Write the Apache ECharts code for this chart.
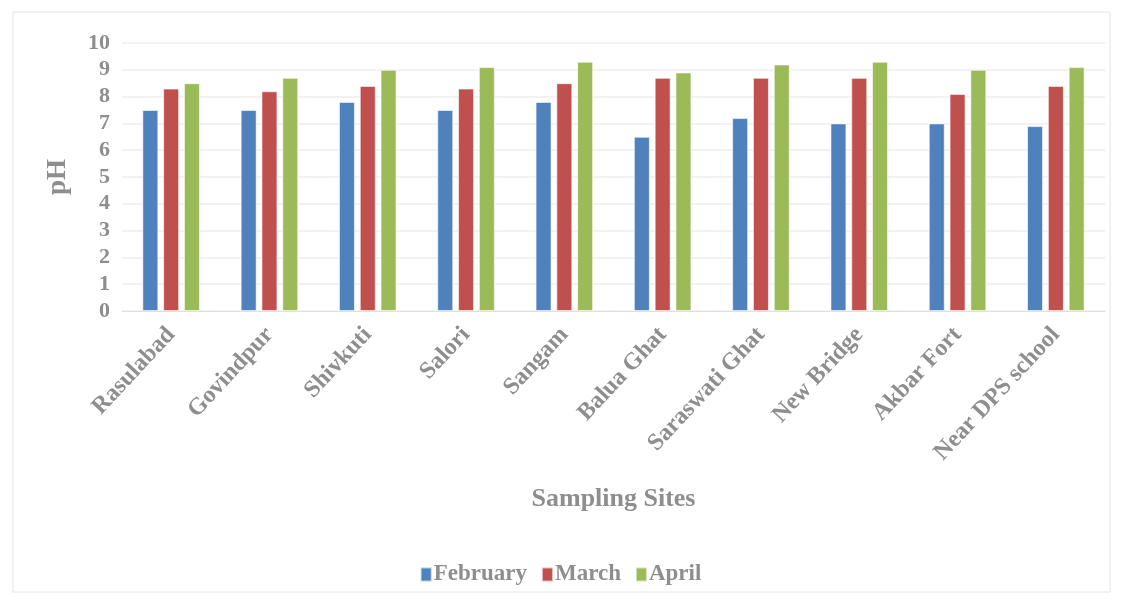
<!DOCTYPE html>
<html><head><meta charset="utf-8">
<script src="https://cdn.jsdelivr.net/npm/echarts@6/dist/echarts.min.js"></script>
<style>html,body{margin:0;padding:0;background:#fff}#c{width:1121px;height:603px}</style>
</head><body><div id="c"></div>
<script>
const categories = ["Rasulabad","Govindpur","Shivkuti","Salori","Sangam","Balua Ghat","Saraswati Ghat","New Bridge","Akbar Fort","Near DPS school"];
const february = [7.5,7.5,7.8,7.5,7.8,6.5,7.2,7.0,7.0,6.9];
const march = [8.3,8.2,8.4,8.3,8.5,8.7,8.7,8.7,8.1,8.4];
const april = [8.5,8.7,9.0,9.1,9.3,8.9,9.2,9.3,9.0,9.1];
const seriesNames = ["February","March","April"];
const colors = ["#4f81bd","#c0504d","#9bbb59"];
const gray = "#8e8e8e";
const font = "'Liberation Serif','Times New Roman',serif";
const chart = echarts.init(document.getElementById('c'));
const mk = (name, data, i) => ({
  name, type: 'bar', data, barWidth: 16, barGap: '30%',
  itemStyle: {color: colors[i], borderColor: 'rgba(255,255,255,0.6)', borderWidth: 1},
  emphasis: {disabled: true}
});
chart.setOption({
  animation: false,
  color: colors,
  graphic: [{type:'rect', shape:{x:13,y:12,width:1097,height:580}, style:{fill:'none', stroke:'#e6e6e6', lineWidth:1}, silent:true}],
  grid: {left: 122, right: 16, top: 43, bottom: 292},
  legend: {
    bottom: 12, left: 'center', itemWidth: 11, itemHeight: 14, itemGap: 14,
    icon: 'rect',
    textStyle: {fontFamily: font, fontWeight: 'bold', fontSize: 23, color: gray, padding:[0,0,0,-3]},
    data: seriesNames
  },
  xAxis: {
    type: 'category', data: categories,
    name: 'Sampling Sites', nameLocation: 'middle', nameGap: 175,
    nameTextStyle: {fontFamily: font, fontWeight: 'bold', fontSize: 26, color: gray},
    axisLine: {lineStyle: {color: '#e0e0e0'}},
    axisTick: {show: false},
    axisLabel: {rotate: 47, interval: 0, margin: 20, fontFamily: font, fontWeight: 'bold', fontSize: 24, color: gray}
  },
  yAxis: {
    type: 'value', min: 0, max: 10, interval: 1,
    name: 'pH', nameLocation: 'middle', nameGap: 50,
    nameTextStyle: {fontFamily: font, fontWeight: 'bold', fontSize: 27, color: gray},
    axisLine: {show: false}, axisTick: {show: false},
    axisLabel: {fontFamily: font, fontWeight: 'bold', fontSize: 22, color: gray, margin: 12},
    splitLine: {lineStyle: {color: '#eeeeee', width: 1.5}}
  },
  series: [mk(seriesNames[0], february, 0), mk(seriesNames[1], march, 1), mk(seriesNames[2], april, 2)]
});
</script></body></html>
